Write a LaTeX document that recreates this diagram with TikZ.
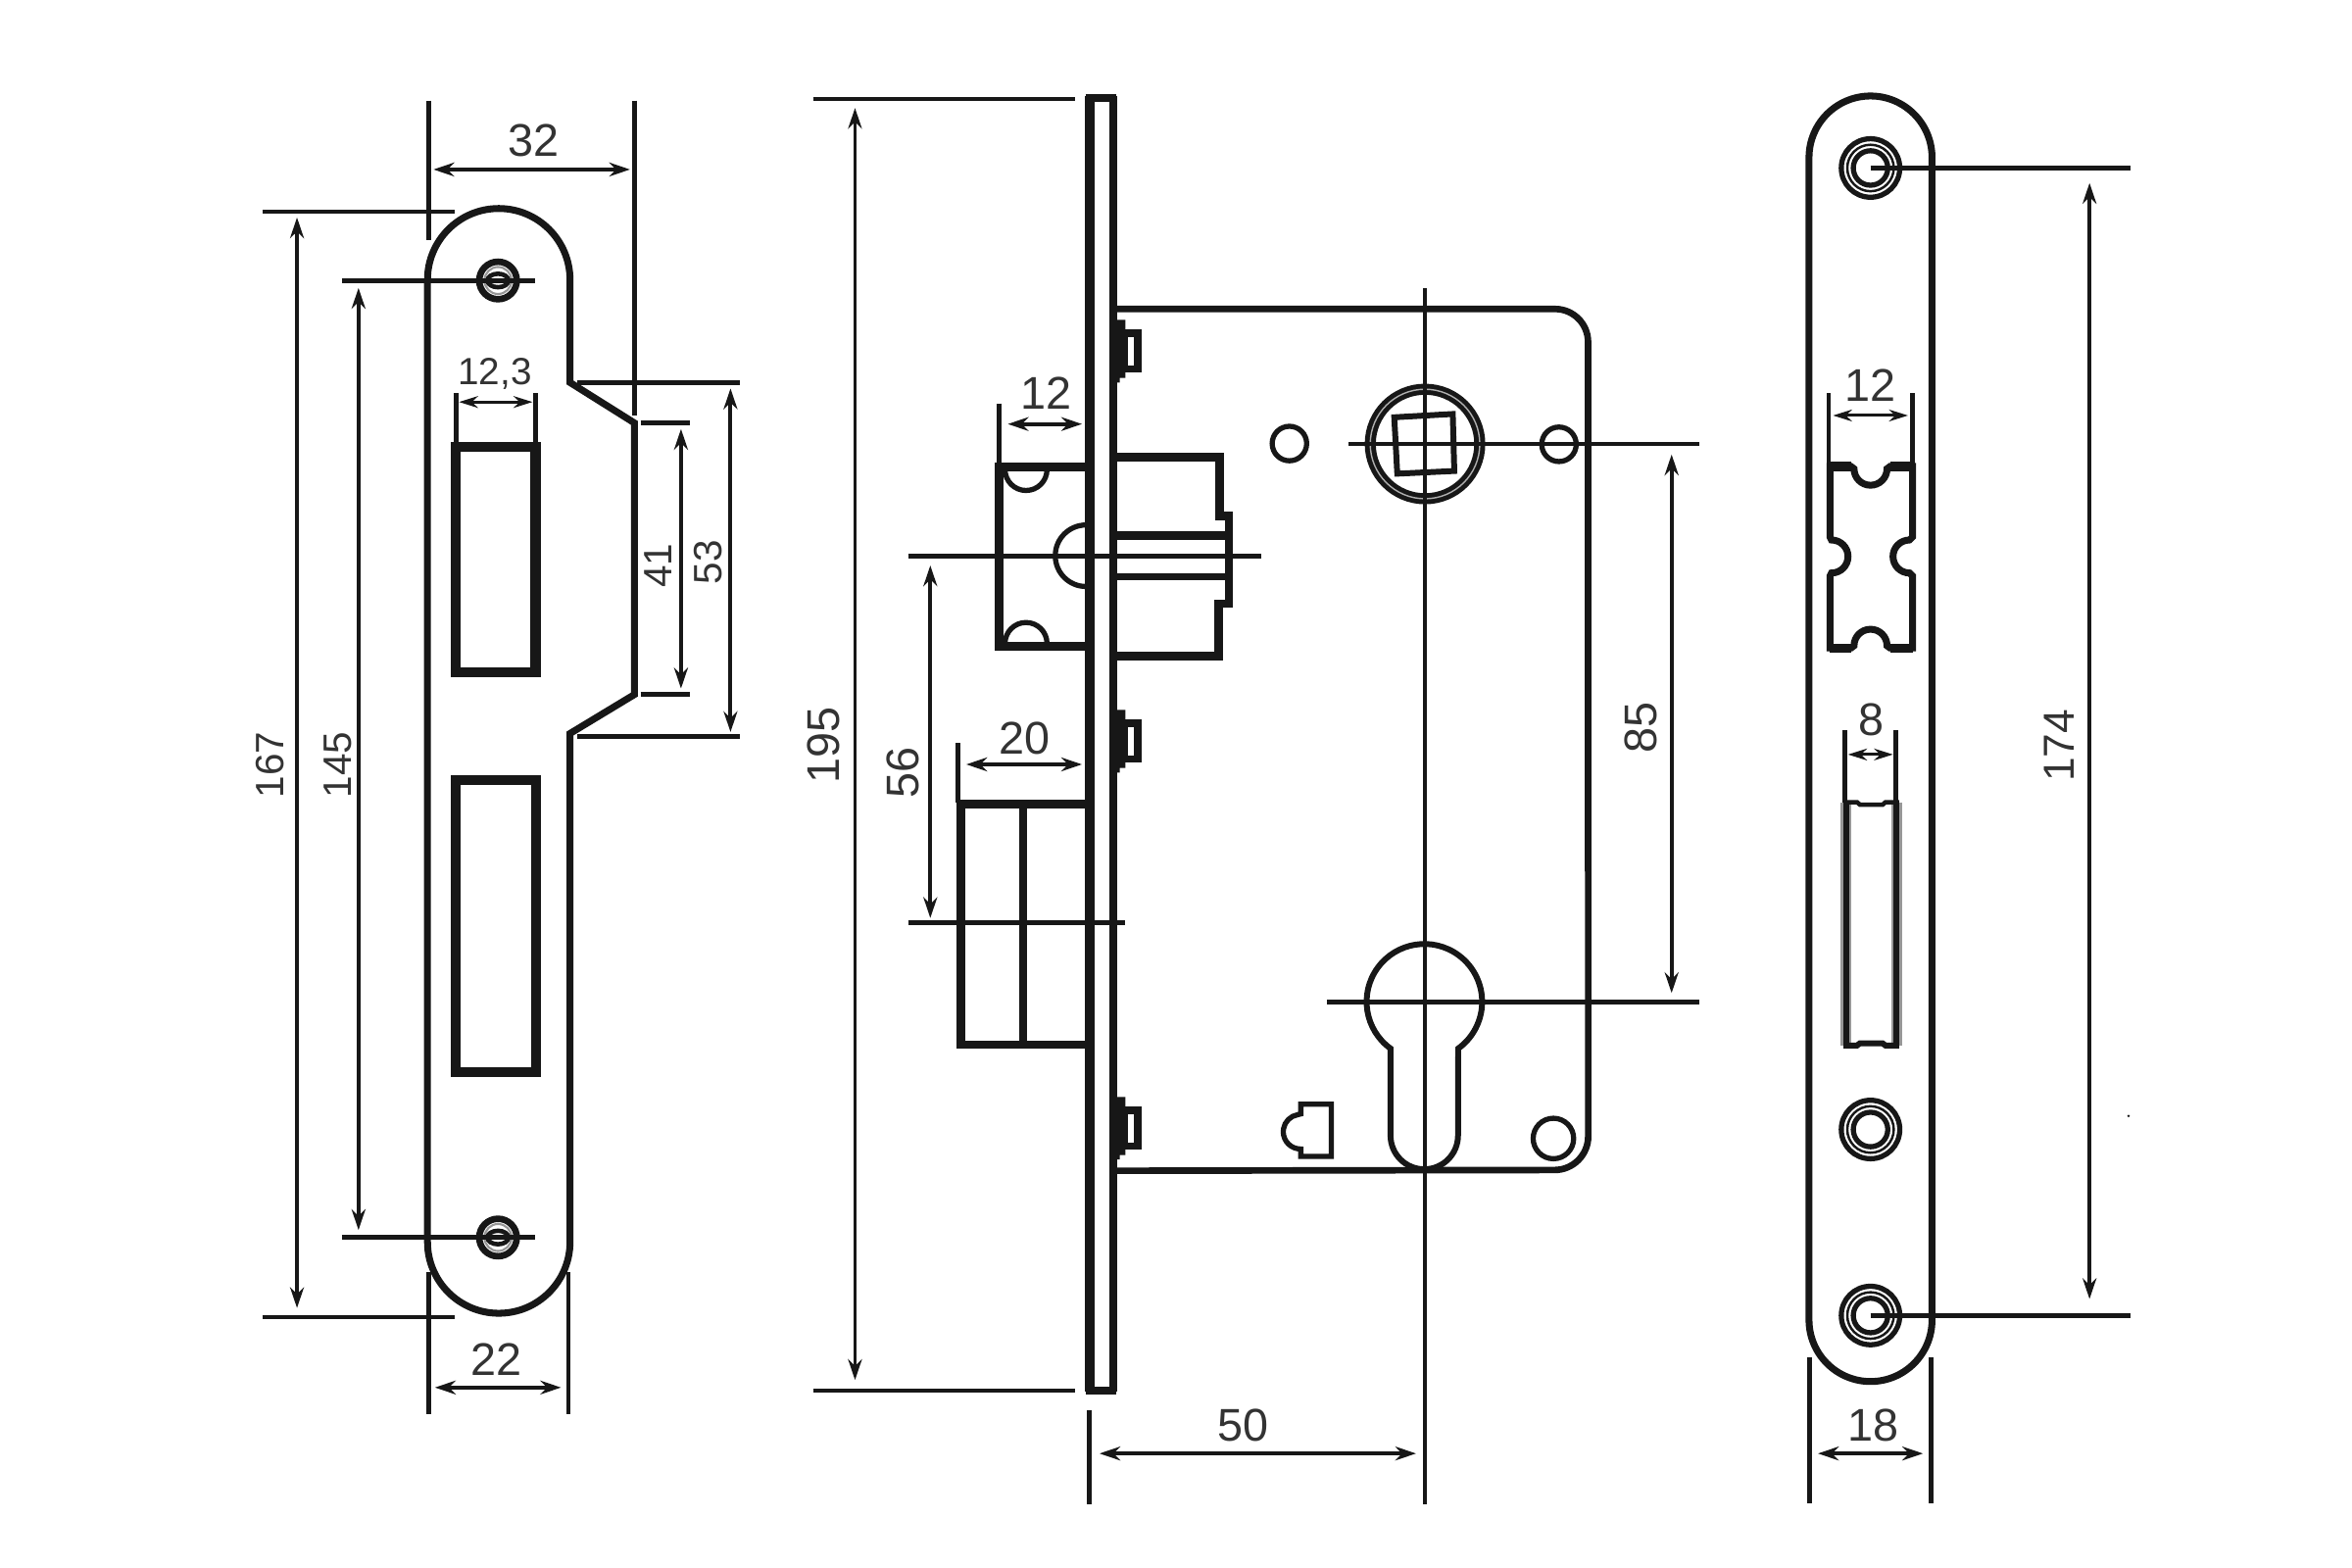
\documentclass[tikz,border=0pt]{standalone}
\usepackage{fontspec}
\setmainfont{Liberation Sans}
\usetikzlibrary{arrows.meta}
\definecolor{ink}{gray}{0.09}
\definecolor{txt}{gray}{0.2}
\tikzset{
  extl/.style={draw=ink,line width=1.3pt},
  diml/.style={draw=ink,line width=1.1pt,{Stealth[length=6pt,width=4pt]}-{Stealth[length=6pt,width=4pt]}},
  diths/.style={draw=ink,line width=0.85pt,{Stealth[length=5.5pt,width=3.4pt]}-{Stealth[length=5.5pt,width=3.4pt]}},
  partl/.style={draw=ink,line width=2pt},
  thinp/.style={draw=ink,line width=1.5pt},
  heavy/.style={draw=ink,line width=2.9pt},
  wall/.style={draw=ink,line width=2.5pt},
  lbl/.style={text=txt,font=\fontsize{13.3}{14}\selectfont,inner sep=0pt},
  lbls/.style={text=txt,font=\fontsize{11}{12}\selectfont,inner sep=0pt},
  vlbl/.style={lbl,rotate=90},
  vlbls/.style={text=txt,font=\fontsize{11.5}{12}\selectfont,inner sep=0pt,rotate=90}
}
\newcommand{\smallscrew}[2]{%
  \draw[draw=ink,line width=1.9pt] (#1,#2) circle[radius=12.5];
  \draw[draw=ink!45,line width=0.6pt] (#1,#2) circle[radius=9];
  \draw[draw=ink,line width=1.3pt] (#1,#2) ellipse[x radius=7,y radius=4.5];
}
\newcommand{\bigscrew}[2]{%
  \draw[draw=ink,line width=1.5pt] (#1,#2) circle[radius=19.5];
  \draw[draw=ink,line width=0.7pt] (#1,#2) circle[radius=15.5];
  \draw[draw=ink,line width=1.5pt] (#1,#2) circle[radius=11.5];
}
\newcommand{\lugblock}[1]{%
  \fill[ink] (740.5,#1-20.7) -- (750.3,#1-20.7) -- (750.3,#1+18) -- (746.5,#1+18) -- (746.5,#1+21) -- (740.5,#1+21) -- cycle;
  \draw[draw=ink,line width=2.2pt] (749.5,#1-12) rectangle (758.7,#1+12);
}
\begin{document}
\begin{tikzpicture}[x=0.015306cm,y=-0.015306cm]
\useasboundingbox[fill=white] (0,0) rectangle (1568,1045.33);

%% ---------- left strike plate ----------
\draw[partl] (285,186.5) arc[start angle=180,end angle=360,radius=47.5]
  -- (380,255) -- (423,282) -- (423,463) -- (380,489) -- (380,828)
  arc[start angle=0,end angle=180,radius=47.5] -- cycle;
\draw[heavy] (304,298) rectangle (357,448);
\draw[heavy] (304,520) rectangle (357.5,715);
\smallscrew{332}{187}
\smallscrew{332}{825}

\draw[extl] (286,67) -- (286,160);
\draw[extl] (423,67) -- (423,277);
\draw[extl] (175,141) -- (303,141);
\draw[extl] (175,878) -- (303,878);
\draw[extl] (228,187) -- (357,187);
\draw[extl] (228,825) -- (357,825);
\draw[extl] (304,262) -- (304,297);
\draw[extl] (357,262) -- (357,297);
\draw[extl] (427,282) -- (460,282);
\draw[extl] (427,463) -- (460,463);
\draw[extl] (385,255) -- (493,255);
\draw[extl] (385,491) -- (493,491);
\draw[extl] (286,848) -- (286,943);
\draw[extl] (379,848) -- (379,943);
\draw[diml] (289,113) -- (420,113);
\draw[diml] (198,145) -- (198,872);
\draw[diml] (239,192) -- (239,820);
\draw[diths] (306,268) -- (355,268);
\draw[diml] (454,286) -- (454,459);
\draw[diml] (487,259) -- (487,488);
\draw[diml] (290,925) -- (374,925);
\node[lbl] (d32) at (356,94) {32};
\node[vlbls] (d167) at (180,510) {167};
\node[vlbls] (d145) at (225,510) {145};
\node[lbls] (d123) at (330,249) {12,3};
\node[vlbls] (d41) at (439,377) {41};
\node[vlbls] (d53) at (472,375) {53};
\node[lbl] (d22) at (331,906) {22};

%% ---------- lock body, side view ----------
\draw[draw=ink,line width=2.8pt] (726.3,64) -- (726.3,928);
\draw[draw=ink,line width=2.4pt] (742,64) -- (742,928);
\draw[draw=ink,line width=2.4pt] (724,65.5) -- (744,65.5);
\draw[draw=ink,line width=2.4pt] (724,927) -- (744,927);
% case
\draw[draw=ink,line width=1.9pt] (743,206) -- (1036.7,206)
  arc[start angle=270,end angle=360,radius=22] -- (1058.8,757.5)
  arc[start angle=0,end angle=90,radius=22.5] -- (743,780.5);
\lugblock{234}
\lugblock{494}
\lugblock{752}
% spindle and holes
\draw[draw=ink,line width=3.2pt] (950,296) circle[radius=36.5];
\draw[draw=white!65!ink,line width=0.4pt] (950,296) circle[radius=36.5];
\draw[draw=ink,line width=1.7pt] (929.5,278.2) -- (968.5,276) -- (969.5,314) -- (931.5,315.8) -- cycle;
\draw[thinp] (859.6,295.7) circle[radius=11.5];
\draw[thinp] (1039.3,296.2) circle[radius=11.5];
\draw[thinp] (1035.6,759) circle[radius=13.5];
% cylinder hole
\draw[draw=ink,line width=1.7pt] (927,699)
  arc[start angle=125.9,end angle=414.1,radius=38.5] -- (972,757)
  arc[start angle=0,end angle=180,radius=22.5] -- cycle;
% key-shaped hole
\draw[thinp] (867.2,736.1) -- (887.5,736.1) -- (887.5,771) -- (867.2,771) -- (867.2,766)
  -- (865,765.8) arc[start angle=100,end angle=260,radius=11.5] -- (867.2,742.6) -- cycle;
% latch
\draw[wall] (726,311.4) -- (666,311.4) -- (666,430.8) -- (726,430.8);
\draw[thinp] (670,313) arc[start angle=180,end angle=0,radius=14];
\draw[thinp] (670,429) arc[start angle=180,end angle=360,radius=14];
\draw[thinp] (724,350) arc[start angle=270,end angle=90,radius=20.5];
\draw[wall] (742,304.9) -- (813,304.9) -- (813,344) -- (819.3,344) -- (819.3,402.5) -- (812.6,402.5) -- (812.6,437.3) -- (742,437.3);
\draw[draw=ink,line width=2.5pt] (742,357.2) -- (819,357.2);
\draw[draw=ink,line width=2.1pt] (742,384.4) -- (819,384.4);
% bolt
\draw[wall] (726,536) -- (640.5,536) -- (640.5,696.5) -- (726,696.5);
\draw[wall] (682,536) -- (682,696.5);
% centre lines
\draw[extl] (950,192) -- (950,1003);
\draw[extl] (899,296) -- (1133,296);
\draw[extl] (884.6,667.9) -- (1133,667.9);
\draw[extl] (605.4,370.7) -- (840.6,370.7);
\draw[extl] (605.4,615) -- (750,615);
% extension lines
\draw[extl] (542,66) -- (717,66);
\draw[extl] (542,927) -- (717,927);
\draw[extl] (666,269) -- (666,310);
\draw[extl] (638.5,495.5) -- (638.5,535);
\draw[extl] (726,940) -- (726,1003);
% dimensions
\draw[diml] (570,72) -- (570,920);
\draw[diml] (620.2,377) -- (620.2,612);
\draw[diml] (671.9,282.7) -- (721.3,282.7);
\draw[diml] (644.2,509.6) -- (721.3,509.6);
\draw[diml] (733,969) -- (944,969);
\draw[diml] (1114.4,303) -- (1114.4,662);
\node[vlbl] (d195) at (549,497) {195};
\node[vlbl] (d56) at (602,515) {56};
\node[lbl] (d12a) at (697.5,262) {12};
\node[lbl] (d20) at (683,492) {20};
\node[lbl] (d50) at (829,950) {50};
\node[vlbl] (d85) at (1094,485) {85};

%% ---------- right face plate ----------
\draw[partl] (1206,105) arc[start angle=180,end angle=360,radius=41] -- (1288,880)
  arc[start angle=0,end angle=180,radius=41] -- cycle;
\bigscrew{1247}{112}
\bigscrew{1247}{753}
\bigscrew{1247}{877}
\draw[extl] (1247,112) -- (1420,112);
\draw[extl] (1247,877) -- (1420,877);
% latch opening
\draw[partl] (1220,311) -- (1234,311) -- (1236,312.5) arc[start angle=180,end angle=0,radius=11]
  -- (1260,311) -- (1275,311) -- (1275,358) -- (1273,360)
  arc[start angle=270,end angle=90,radius=11] -- (1275,384) -- (1275,432)
  -- (1260,432) -- (1258,430.5) arc[start angle=0,end angle=-180,radius=11]
  -- (1234,432) -- (1220,432) -- (1220,384) -- (1221,382)
  arc[start angle=90,end angle=-90,radius=11] -- (1220,358) -- cycle;
\draw[draw=ink,line width=2.6pt] (1220,311) -- (1234,311);
\draw[draw=ink,line width=2.6pt] (1260,311) -- (1275,311);
\draw[draw=ink,line width=2.6pt] (1220,432) -- (1234,432);
\draw[draw=ink,line width=2.6pt] (1260,432) -- (1275,432);
% bolt opening
\draw[draw=ink!45,line width=2.9pt] (1230.5,535) -- (1230.5,697);
\draw[draw=ink!45,line width=2.9pt] (1264.5,535) -- (1264.5,697);
\draw[draw=ink,line width=1.7pt] (1231,535) -- (1231,697);
\draw[draw=ink,line width=1.7pt] (1264,535) -- (1264,697);
\draw[draw=ink,line width=1.3pt] (1229,534.8) -- (1238,534.8) -- (1240,536.5) -- (1255,536.5) -- (1257,534.8) -- (1266,534.8);
\draw[draw=ink,line width=1.7pt] (1229,697) -- (1238,697) -- (1240,695.5) -- (1255,695.5) -- (1257,697) -- (1266,697);
% extensions and dimensions
\draw[extl] (1219,262) -- (1219,310);
\draw[extl] (1275,262) -- (1275,310);
\draw[extl] (1230,487) -- (1230,535);
\draw[extl] (1264,487) -- (1264,535);
\draw[extl] (1206.5,905) -- (1206.5,1002);
\draw[extl] (1287.5,905) -- (1287.5,1002);
\draw[diml] (1393,122) -- (1393,866);
\draw[diths] (1222,277) -- (1272,277);
\draw[diths] (1232,503) -- (1262,503);
\draw[diml] (1212,969) -- (1282,969);
\node[lbl] (d12b) at (1247,257) {12};
\node[lbl] (d8) at (1247.5,480) {8};
\node[lbl] (d18) at (1249,950) {18};
\node[vlbl,font=\fontsize{12.6}{13}\selectfont] (d174) at (1373,497) {174};
\fill[ink] (1419,744) circle[radius=0.9];
\end{tikzpicture}
\end{document}
